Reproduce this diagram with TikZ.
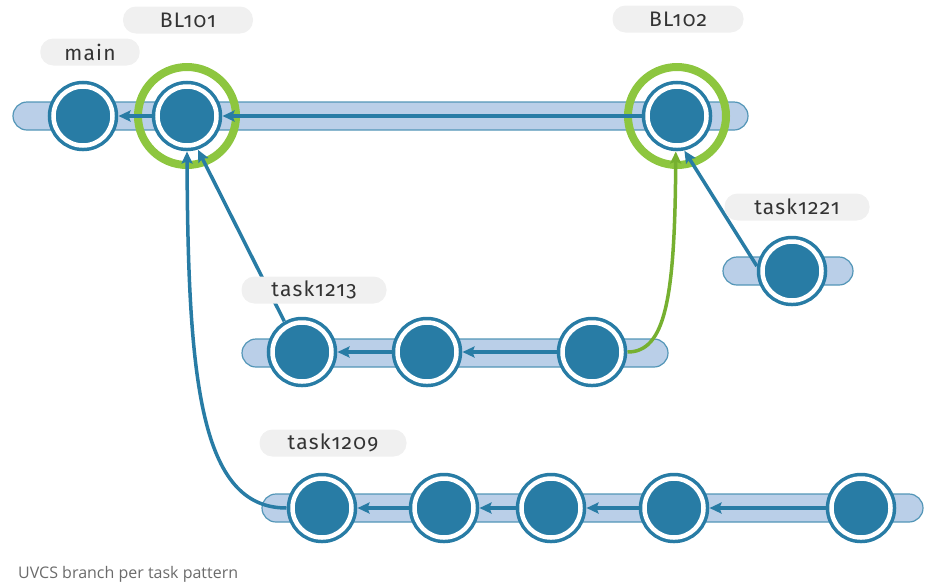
\documentclass[tikz,border=0pt]{standalone}
\usepackage{fontspec}
\usetikzlibrary{arrows.meta}
\newfontfamily\tagfont[Numbers=OldStyle, LetterSpace=6]{Fira Sans}
\newfontfamily\capfont{Open Sans}
\definecolor{commitblue}{RGB}{40,124,165}
\definecolor{barblue}{RGB}{186,207,232}
\definecolor{releasegreen}{RGB}{141,198,63}
\definecolor{mergegreen}{RGB}{118,176,48}
\definecolor{taggray}{RGB}{240,240,240}

\begin{document}
\begin{tikzpicture}[
        x=1pt, y=-1pt,
        node distance=120pt,
        commit/.style={circle, fill=commitblue, draw=commitblue, double=white, double distance=4.5pt, line width=3.5pt, minimum size=59pt, inner sep=0pt, outer sep=6pt},
        release/.style={circle, draw=releasegreen, line width=8pt, minimum size=98pt, inner sep=0pt},
        bar/.style={rectangle, draw=commitblue!80, line width=1.2pt, fill=barblue, rounded corners=14pt, minimum height=28pt, inner sep=0pt},
        tag/.style={rectangle, fill=taggray, rounded corners=13pt, minimum height=27pt, inner xsep=24pt, font=\tagfont\fontsize{21}{21}\selectfont, text=black!80},
        arrow/.style={->, >={Stealth[length=12pt, width=11pt, inset=2pt]}, line width=3.5pt, draw=commitblue},
        merge/.style={arrow, draw=mergegreen, line width=3.5pt}
    ]
        \useasboundingbox (0,0) rectangle (925,582);

        \node[bar, minimum width=735pt] (mainbar) at (380.5,116) {};
        \node[bar, minimum width=130pt] (t21bar) at (788,271) {};
        \node[bar, minimum width=426pt] (t13bar) at (455,353) {};
        \node[bar, minimum width=661pt] (t09bar) at (592.5,508) {};

        \node[release] (bl101r) at (187,116) {};
        \node[release] (bl102r) at (677,116) {};

        \node[commit] (main) at (83,116) {};
        \node[commit] (bl101) at (187,116) {};
        \node[commit] (bl102) at (677,116) {};
        \node[commit] (t21) at (792,271) {};
        \node[commit] (t13a) at (302,352) {};
        \node[commit, right of=t13a, xshift=5pt] (t13b) {};
        \node[commit, right of=t13b, xshift=45pt] (t13c) {};
        \node[commit] (t09a) at (322,508) {};
        \node[commit, right of=t09a, xshift=2pt] (t09b) {};
        \node[commit, right of=t09b, xshift=-13pt] (t09c) {};
        \node[commit, right of=t09c, xshift=3pt] (t09d) {};
        \node[commit, right of=t09d, xshift=67pt] (t09e) {};

        \draw[arrow] (bl101) -- (main);
        \draw[arrow] (bl102) -- (bl101);
        \draw[arrow] (t13b) -- (t13a);
        \draw[arrow] (t13c) -- (t13b);
        \draw[arrow] (t09b) -- (t09a);
        \draw[arrow] (t09c) -- (t09b);
        \draw[arrow] (t09d) -- (t09c);
        \draw[arrow] (t09e) -- (t09d);
        \draw[arrow] (t21.172) -- (bl102.-78);
        \draw[arrow] (t13a.120) -- (bl101.-72);
        \draw[arrow] (t09a.west) .. controls (200,508) and (188,380) .. (bl101.south);
        \draw[merge] (t13c.east) .. controls (665,352) and (675,300) .. (bl102.-92);

        \node[tag, node distance=64pt, above of=main, xshift=7pt] (mainlbl) {main};
        \node[tag, node distance=96pt, above of=bl101, xshift=1pt, minimum width=130pt] (bl101lbl) {BL101};
        \node[tag, node distance=97pt, above of=bl102, xshift=1pt, minimum width=131pt] (bl102lbl) {BL102};
        \node[tag, node distance=64pt, above of=t21, xshift=5pt, minimum width=145pt] (t21lbl) {task1221};
        \node[tag, node distance=62pt, above of=t13a, xshift=12pt, minimum width=145pt] (t13lbl) {task1213};
        \node[tag, node distance=65pt, above of=t09a, xshift=11pt, minimum width=147pt] (t09lbl) {task1209};

        \node[anchor=base west, inner sep=0pt, font=\capfont\fontsize{16}{16}\selectfont, text=black!58] (caption) at (18,578) {UVCS branch per task pattern};
    \end{tikzpicture}
\end{document}
